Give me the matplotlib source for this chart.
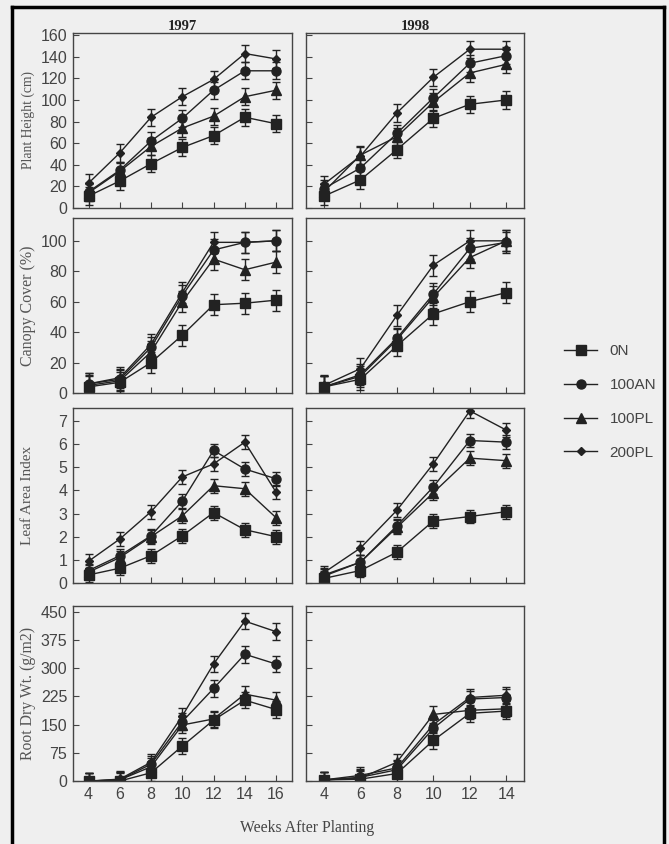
import matplotlib.pyplot as plt
from matplotlib.lines import Line2D
import numpy as np

# data
weeks97 = [4, 6, 8, 10, 12, 14, 16]
weeks98 = [4, 6, 8, 10, 12, 14]
treatments = ['0N', '100AN', '100PL', '200PL']
markers = ['s', 'o', '^', 'D']
msizes = [7, 6.5, 6.5, 4]

height97 = {'0N': [11, 25, 41, 56, 67, 84, 78],
            '100AN': [15, 35, 62, 83, 109, 127, 127],
            '100PL': [14, 34, 57, 74, 85, 103, 109],
            '200PL': [23, 51, 84, 103, 119, 143, 138]}
height98 = {'0N': [11, 26, 54, 83, 96, 100],
            '100AN': [18, 37, 69, 102, 134, 141],
            '100PL': [15, 49, 66, 98, 125, 133],
            '200PL': [22, 48, 88, 121, 147, 147]}
cover97 = {'0N': [4, 7, 20, 38, 58, 59, 61],
           '100AN': [6, 9, 30, 64, 94, 99, 100],
           '100PL': [5, 8, 27, 60, 88, 81, 86],
           '200PL': [6, 10, 32, 66, 99, 99, 100]}
cover98 = {'0N': [4, 9, 31, 52, 60, 66],
           '100AN': [4, 12, 36, 65, 95, 99],
           '100PL': [4, 11, 35, 63, 89, 100],
           '200PL': [5, 16, 51, 84, 100, 100]}
lai97 = {'0N': [0.35, 0.64, 1.18, 2.04, 3.04, 2.3, 2.0],
         '100AN': [0.54, 1.18, 2.04, 3.54, 5.72, 4.92, 4.5],
         '100PL': [0.47, 1.1, 2.0, 2.9, 4.2, 4.07, 2.82],
         '200PL': [0.94, 1.9, 3.08, 4.58, 5.14, 6.08, 3.92]}
lai98 = {'0N': [0.2, 0.54, 1.33, 2.68, 2.87, 3.08],
         '100AN': [0.35, 0.9, 2.47, 4.15, 6.15, 6.08],
         '100PL': [0.3, 0.9, 2.4, 3.9, 5.39, 5.28],
         '200PL': [0.45, 1.51, 3.14, 5.15, 7.43, 6.6]}
root97 = {'0N': [0, 0, 22, 93, 162, 215, 190],
          '100AN': [0, 3, 45, 158, 246, 337, 311],
          '100PL': [0, 3, 38, 149, 165, 231, 215],
          '200PL': [0, 5, 50, 173, 311, 425, 397]}
root98 = {'0N': [3, 5, 20, 108, 180, 186],
          '100AN': [3, 10, 30, 140, 218, 222],
          '100PL': [3, 8, 50, 177, 188, 192],
          '200PL': [3, 15, 35, 150, 222, 228]}

errs = [8, 7, 0.3, 22]
ylabels = ['Plant Height (cm)', 'Canopy Cover (%)', 'Leaf Area Index', 'Root Dry Wt. (g/m2)']
ylab_sizes = [9.8, 11.5, 11, 11.3]
yticks = [np.arange(0, 161, 20), np.arange(0, 101, 20), np.arange(0, 8, 1), np.arange(0, 451, 75)]
ylims = [(0, 162), (0, 115), (0, 7.55), (0, 465)]
rows = [(height97, height98), (cover97, cover98), (lai97, lai98), (root97, root98)]

bg = '#efefef'
ink = '#222222'
fig = plt.figure(figsize=(6.69, 8.44), dpi=100, facecolor=bg)

bottoms = [0.7536, 0.5344, 0.3092, 0.0746]
lefts = [0.109, 0.457]
w, h = 0.327, 0.2073

for r in range(4):
    for c in range(2):
        ax = fig.add_axes([lefts[c], bottoms[r], w, h], facecolor=bg)
        data = rows[r][c]
        wk = weeks97 if c == 0 else weeks98
        for t, m, ms in zip(treatments, markers, msizes):
            ax.errorbar(wk, data[t], yerr=errs[r], color=ink, marker=m, ms=ms,
                        lw=1, elinewidth=1, capsize=3, capthick=1)
        ax.set_xlim(3, 17 if c == 0 else 15)
        ax.set_ylim(*ylims[r])
        ax.set_xticks(wk)
        ax.set_yticks(yticks[r])
        ax.tick_params(direction='in', length=4, color='#444444',
                       labelsize=11.5, labelcolor='#444444', pad=4)
        for s in ax.spines.values():
            s.set_color('#444444')
            s.set_linewidth(1)
        if r < 3:
            ax.set_xticklabels([])
        if c == 1:
            ax.set_yticklabels([])
        else:
            for lab in ax.get_yticklabels():
                lab.set_fontfamily('Liberation Sans')
            fig.text(28 / 669, bottoms[r] + h / 2, ylabels[r], rotation=90,
                     ha='center', va='center', family='Liberation Serif',
                     fontsize=ylab_sizes[r], color='#555555')
        for lab in ax.get_xticklabels():
            lab.set_fontfamily('Liberation Sans')
        if r == 0:
            ax.set_title('1997' if c == 0 else '1998', family='Liberation Serif',
                         fontweight='bold', fontsize=10.5, color=ink, pad=2)

fig.text(307 / 669, 1 - 828 / 844, 'Weeks After Planting', ha='center', va='center',
         family='Liberation Serif', fontsize=11.3, color='#444444')

handles = [Line2D([], [], color=ink, marker=m, ms=ms, lw=1)
           for m, ms in zip(markers, msizes)]
leg = fig.legend(handles, treatments, loc='center left',
                 bbox_to_anchor=(550 / 669, 1 - 402 / 844), frameon=False,
                 handlelength=2.2, labelspacing=1.3, handletextpad=0.8,
                 prop={'family': 'Liberation Sans', 'size': 11})
for tx in leg.get_texts():
    tx.set_color('#444444')

# black frame around the figure
for xs, ys in [([12, 12], [7, 844]), ([12, 664], [7, 7]), ([664, 664], [7, 844])]:
    fig.add_artist(Line2D(np.array(xs) / 669, 1 - np.array(ys) / 844,
                          color='black', lw=2.5))

fig.savefig('out.png', dpi=100, facecolor=bg)
